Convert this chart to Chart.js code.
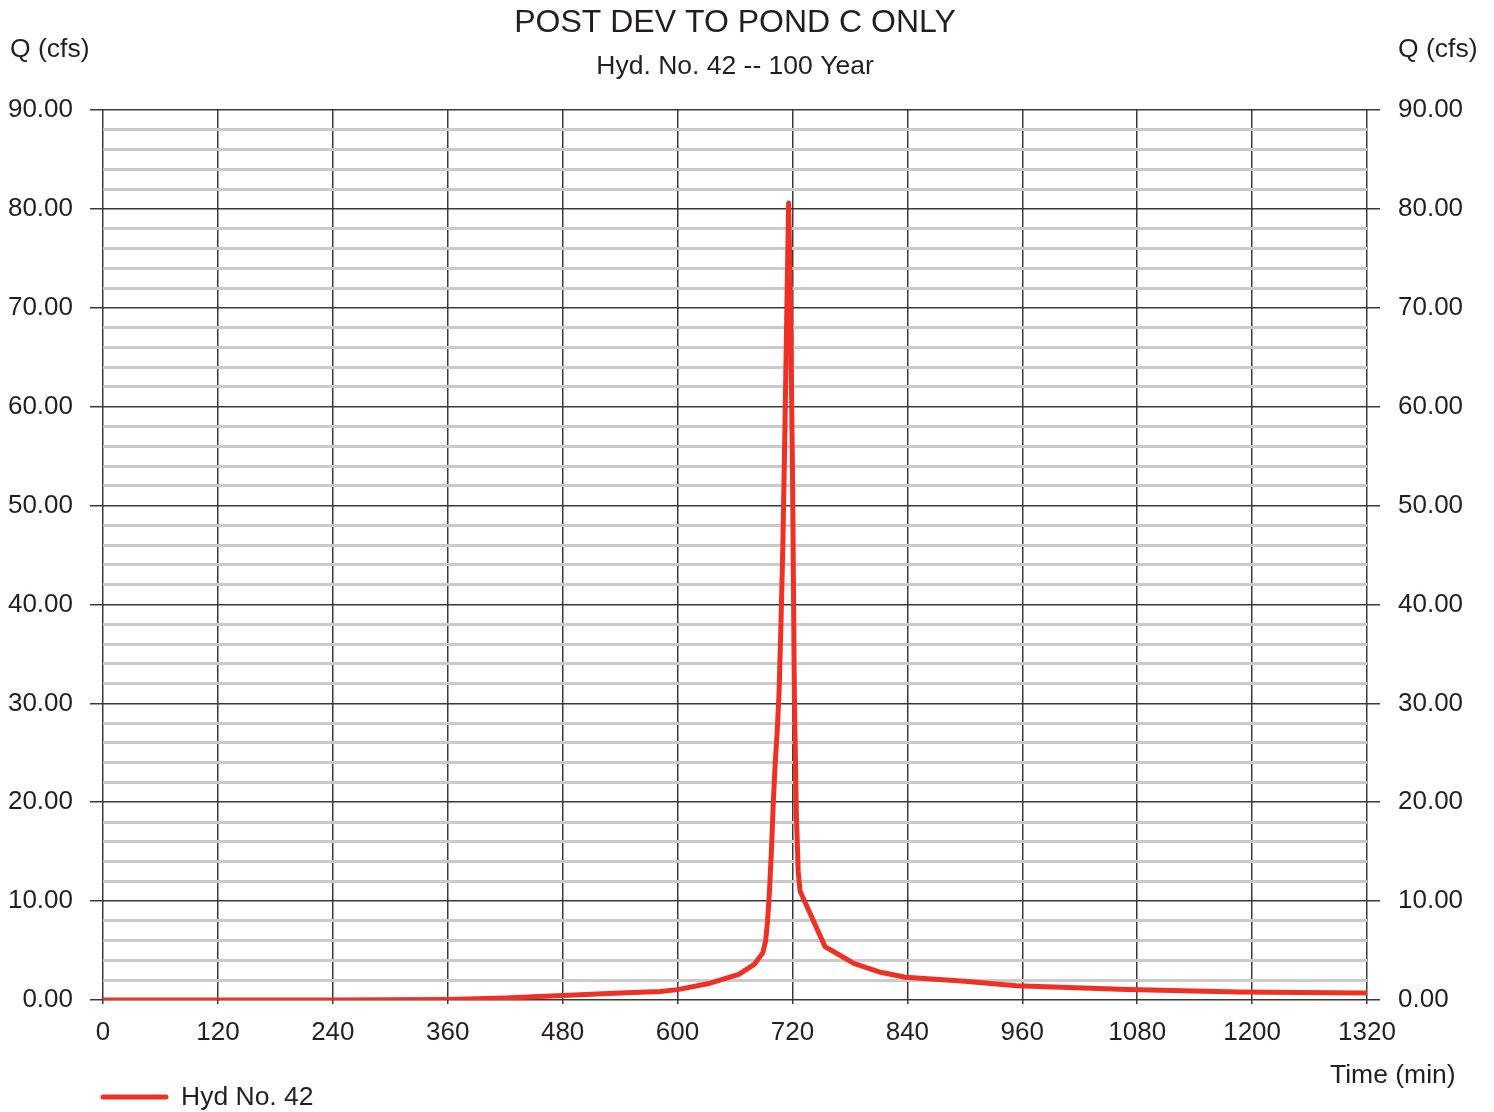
<!DOCTYPE html>
<html>
<head>
<meta charset="utf-8">
<title>POST DEV TO POND C ONLY</title>
<script src="https://cdn.jsdelivr.net/npm/chart.js@4/dist/chart.umd.min.js"></script>
<style>
  html, body { margin: 0; padding: 0; background: #fff; }
  #wrap { width: 1494px; height: 1112px; position: relative; }
</style>
</head>
<body>
<div id="wrap"><canvas id="hydro"></canvas></div>
<script>
// Hydrograph ordinates (time in min, flow in cfs)
const timeMin = [0, 120, 240, 360, 420, 480, 540, 582, 600, 634, 664, 680, 689,
  692, 694, 696, 698, 700, 702, 704, 706, 708, 710, 712, 714, 716,
  718, 720, 722, 724, 726, 728, 754, 770, 784, 812, 838, 900, 954, 1070, 1186, 1320];
const flowCfs = [0, 0, 0, 0.05, 0.2, 0.45, 0.7, 0.85, 1.05, 1.7, 2.6, 3.6, 4.75,
  6.0, 8.0, 11.0, 15.0, 20.0, 24.0, 27.0, 31.0, 38.0, 46.0, 57.0, 69.0, 80.6,
  70.0, 54.0, 31.0, 19.0, 13.0, 11.0, 5.4, 4.5, 3.7, 2.8, 2.3, 1.9, 1.45, 1.05, 0.8, 0.7];

const xTicks = [0, 120, 240, 360, 480, 600, 720, 840, 960, 1080, 1200, 1320];
const yMax = 90;

const TEXT = '#231f20';
const MAJOR = '#3a3a3a';
const MINOR = '#cacaca';
const RED = '#ee3124';
const FONT = '"Liberation Sans", Arial, sans-serif';

const isMajor = v => Math.abs(v % 10) < 1e-6;

function yScale(pos) {
  return {
    type: 'linear',
    position: pos,
    min: 0,
    max: yMax,
    afterFit: s => { s.width = pos === 'left' ? 103 : 127; },
    afterBuildTicks: s => {
      const t = [];
      for (let v = 0; v <= yMax; v += 2) t.push({ value: v });
      s.ticks = t;
    },
    border: { display: false },
    grid: {
      drawOnChartArea: pos === 'left',
      color: c => isMajor(c.tick.value) ? MAJOR : MINOR,
      lineWidth: c => isMajor(c.tick.value) ? 1.5 : 3,
      tickColor: c => isMajor(c.tick.value) ? MAJOR : 'rgba(0,0,0,0)',
      tickWidth: 1.5,
      tickLength: 13,
      z: -1
    },
    ticks: {
      autoSkip: false,
      padding: pos === 'left' ? 17 : 18,
      color: TEXT,
      font: { family: FONT, size: 26 },
      callback: v => isMajor(v) ? v.toFixed(2) : ''
    }
  };
}

new Chart(document.getElementById('hydro'), {
  type: 'line',
  data: {
    datasets: [{
      label: 'Hyd No. 42',
      data: timeMin.map((t, i) => ({ x: t, y: flowCfs[i] })),
      borderColor: RED,
      borderWidth: 5,
      pointRadius: 0,
      tension: 0,
      borderJoinStyle: 'round',
      borderCapStyle: 'round',
      yAxisID: 'y'
    }]
  },
  options: {
    responsive: true,
    maintainAspectRatio: false,
    animation: false,
    layout: { padding: { top: 110, left: 0, right: 0, bottom: 0 } },
    scales: {
      x: {
        type: 'linear',
        min: 0,
        max: 1320,
        afterFit: s => { s.height = 112; },
        afterBuildTicks: s => { s.ticks = xTicks.map(v => ({ value: v })); },
        border: { display: false },
        grid: { color: MAJOR, lineWidth: 1.5, tickLength: 4, z: -1 },
        ticks: {
          autoSkip: false,
          maxRotation: 0,
          padding: 13,
          color: TEXT,
          font: { family: FONT, size: 26 },
          callback: v => String(v)
        }
      },
      y: yScale('left'),
      y2: yScale('right')
    },
    plugins: {
      legend: { display: false },
      tooltip: { enabled: false }
    }
  },
  plugins: [{
    id: 'captions',
    afterDraw(chart) {
      const ctx = chart.ctx;
      const area = chart.chartArea;
      const mid = (area.left + area.right) / 2;
      ctx.save();
      ctx.fillStyle = TEXT;
      ctx.textBaseline = 'middle';

      ctx.textAlign = 'center';
      ctx.font = '32px ' + FONT;
      ctx.fillText('POST DEV TO POND C ONLY', mid, 23);
      ctx.font = '26.5px ' + FONT;
      ctx.fillText('Hyd. No. 42 -- 100 Year', mid, 67);

      ctx.textAlign = 'left';
      ctx.fillText('Q (cfs)', 10, 50);
      ctx.fillText('Q (cfs)', 1398, 50);
      ctx.fillText('Time (min)', 1330, 1076);

      // legend entry
      ctx.strokeStyle = RED;
      ctx.lineWidth = 5;
      ctx.lineCap = 'round';
      ctx.beginPath();
      ctx.moveTo(103, 1097);
      ctx.lineTo(166, 1097);
      ctx.stroke();
      ctx.fillText(chart.data.datasets[0].label, 181, 1098);
      ctx.restore();
    }
  }]
});
</script>
</body>
</html>
